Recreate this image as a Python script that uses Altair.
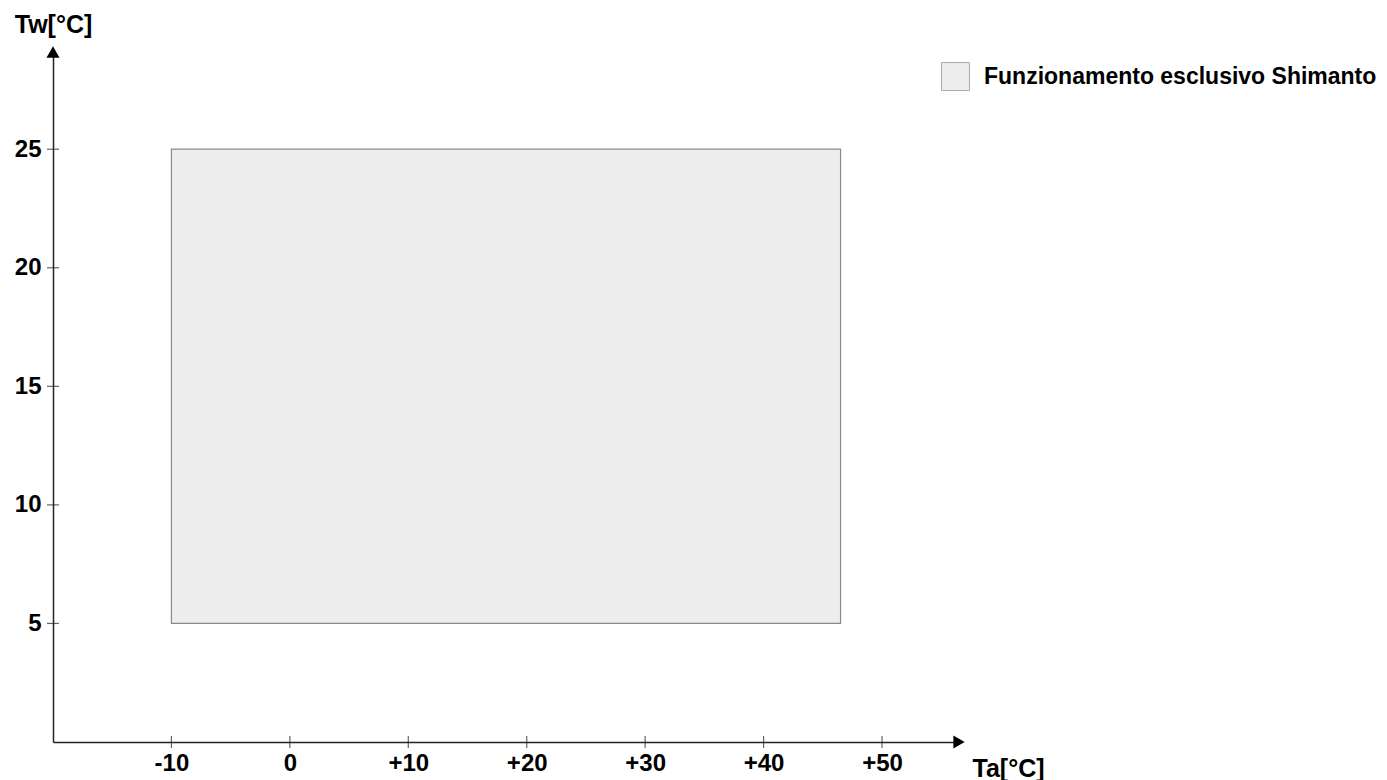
import altair as alt
import pandas as pd

# ---- data ----
x_ticks = [-10, 0, 10, 20, 30, 40, 50]
y_ticks = [5, 10, 15, 20, 25]
x_domain = [-20, 56.5]
y_domain = [0, 29.1]
zone_label = ["Funzionamento esclusivo Shimanto"]
zone_x = [-10]
zone_x2 = [46.5]
zone_y = [5]
zone_y2 = [25]

FONT = "Liberation Sans"
AXIS_COLOR = "#222222"

zone_df = pd.DataFrame({"label": zone_label, "x": zone_x, "x2": zone_x2,
                        "y": zone_y, "y2": zone_y2})
xt_df = pd.DataFrame({"x": x_ticks, "y": [y_domain[0]] * len(x_ticks)})
yt_df = pd.DataFrame({"y": y_ticks, "x": [x_domain[0]] * len(y_ticks)})
arrow_x_df = pd.DataFrame({"x": [x_domain[1]], "y": [y_domain[0]]})
arrow_y_df = pd.DataFrame({"x": [x_domain[0]], "y": [y_domain[1]]})

xscale = alt.Scale(domain=x_domain, nice=False, zero=False)
yscale = alt.Scale(domain=y_domain, nice=False, zero=False)

x_axis = alt.Axis(values=x_ticks, ticks=False, grid=False,
                  labelExpr="datum.value > 0 ? '+' + datum.value : '' + datum.value",
                  labelFont=FONT, labelFontSize=24, labelFontWeight="bold",
                  labelColor="black", labelPadding=9,
                  domainColor=AXIS_COLOR, domainWidth=1.5,
                  title="Ta[°C]", titleFont=FONT, titleFontSize=25,
                  titleFontWeight="bold", titleColor="black",
                  titleAngle=0, titleAlign="left", titleBaseline="alphabetic",
                  titleX=919, titleY=34)
y_axis = alt.Axis(values=y_ticks, ticks=False, grid=False,
                  labelFont=FONT, labelFontSize=24, labelFontWeight="bold",
                  labelColor="black", labelPadding=12,
                  domainColor=AXIS_COLOR, domainWidth=1.5,
                  title="Tw[°C]", titleFont=FONT, titleFontSize=25,
                  titleFontWeight="bold", titleColor="black",
                  titleAngle=0, titleAlign="center", titleBaseline="alphabetic",
                  titleX=0, titleY=-20)

zone = alt.Chart(zone_df).mark_rect(stroke="#8a8a8a", strokeWidth=1.2).encode(
    x=alt.X("x:Q", scale=xscale, axis=x_axis),
    x2="x2:Q",
    y=alt.Y("y:Q", scale=yscale, axis=y_axis),
    y2="y2:Q",
    color=alt.Color("label:N", scale=alt.Scale(range=["#ededed"]),
                    legend=alt.Legend(title=None, orient="none",
                                      legendX=888, legendY=10,
                                      symbolType="square", symbolSize=784,
                                      symbolStrokeColor="#aaaaaa",
                                      symbolStrokeWidth=1,
                                      labelFont=FONT, labelFontSize=23,
                                      labelFontWeight="bold", labelLimit=0,
                                      labelColor="black", labelOffset=14,
                                      padding=0)),
)

xticks = alt.Chart(xt_df).mark_tick(orient="vertical", size=12, thickness=1.2,
                                     color=AXIS_COLOR).encode(
    x=alt.X("x:Q", scale=xscale), y=alt.Y("y:Q", scale=yscale))
yticks = alt.Chart(yt_df).mark_tick(orient="horizontal", size=12, thickness=1.2,
                                     color=AXIS_COLOR).encode(
    x=alt.X("x:Q", scale=xscale), y=alt.Y("y:Q", scale=yscale))

arrow_x = alt.Chart(arrow_x_df).mark_point(shape="triangle-right", filled=True,
                                           size=170, color="black", opacity=1).encode(
    x=alt.X("x:Q", scale=xscale), y=alt.Y("y:Q", scale=yscale))
arrow_y = alt.Chart(arrow_y_df).mark_point(shape="triangle-up", filled=True,
                                           size=170, color="black", opacity=1).encode(
    x=alt.X("x:Q", scale=xscale), y=alt.Y("y:Q", scale=yscale))

chart = alt.layer(zone, xticks, yticks, arrow_x, arrow_y).properties(
    width=906, height=690,
    autosize=alt.AutoSizeParams(type="none"),
    padding={"left": 45, "top": 44, "right": 420, "bottom": 44},
    background="white",
).configure_view(stroke="transparent")

chart.save("out.html", embed_options={"renderer": "svg", "actions": False})
